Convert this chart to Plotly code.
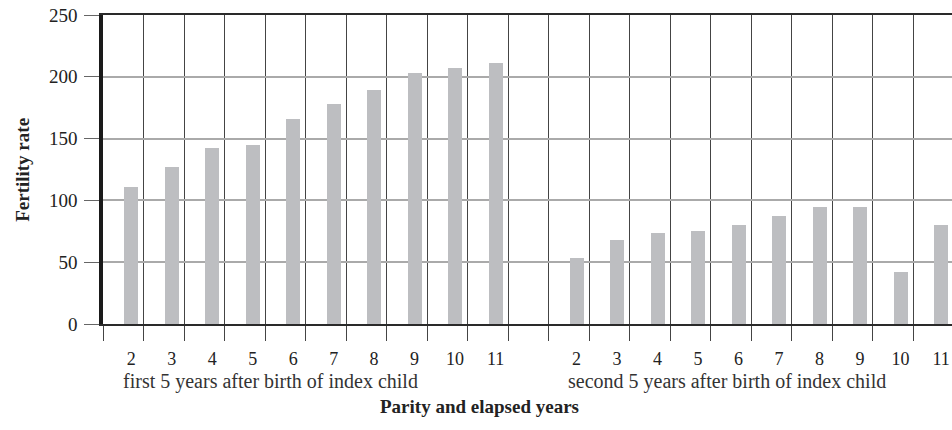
import plotly.graph_objects as go

# fertility rate by parity, two periods after birth of index child
parity = ["2", "3", "4", "5", "6", "7", "8", "9", "10", "11"]
first_5_years = [111, 127, 142, 145, 166, 178, 189, 203, 207, 211]
second_5_years = [53, 68, 74, 75, 80, 87, 95, 95, 42, 80]
group_labels = ["first 5 years after birth of index child",
                "second 5 years after birth of index child"]

SERIF = "Liberation Serif"
BAR_COLOR = "#bdbec1"

# positions: first group 0..9, empty slot, second group 11..20
x_first = list(range(len(parity)))
x_second = [len(parity) + 1 + i for i in range(len(parity))]

fig = go.Figure()
fig.add_trace(go.Bar(x=x_first + x_second, y=first_5_years + second_5_years,
                     width=0.345, marker=dict(color=BAR_COLOR, line=dict(width=0)),
                     showlegend=False, hoverinfo="y"))

fig.update_layout(
    width=952, height=430,
    margin=dict(l=103, r=0, t=15, b=106),
    plot_bgcolor="white", paper_bgcolor="white",
    font=dict(family=SERIF, color="#222"),
    xaxis=dict(
        range=[-0.695, 20.27],
        tickvals=x_first + x_second, ticktext=parity + parity,
        ticks="outside", ticklen=17, tickcolor="rgba(0,0,0,0)",
        tickfont=dict(size=18, family=SERIF, color="#222"),
        showgrid=False, zeroline=False,
        showline=True, mirror=True, linewidth=2, linecolor="#2a2a2a",
        minor=dict(tick0=0.31, dtick=1, ticks="outside", ticklen=15,
                   tickwidth=1.3, tickcolor="#444",
                   showgrid=True, gridcolor="#444", gridwidth=1.3),
        fixedrange=True,
    ),
    yaxis=dict(
        range=[0, 250], tickvals=[0, 50, 100, 150, 200, 250],
        ticks="outside", ticklen=15, tickwidth=1, tickcolor="#666",
        ticklabelstandoff=3,
        tickfont=dict(size=19, family=SERIF, color="#222"),
        showgrid=True, gridcolor="#aaaaaa", gridwidth=1.5,
        zeroline=False,
        showline=True, linewidth=3.5, linecolor="#1a1a1a",
        fixedrange=True,
    ),
    bargap=0,
)

fig.add_annotation(text="<b>Fertility rate</b>", textangle=-90,
                   xref="paper", yref="paper", x=-0.095, y=0.5,
                   xanchor="center", yanchor="middle", showarrow=False,
                   font=dict(size=19, family=SERIF, color="#222"))
fig.add_annotation(text="<b>Parity and elapsed years</b>",
                   xref="paper", yref="paper", x=0.444, y=-0.268,
                   xanchor="center", yanchor="middle", showarrow=False,
                   font=dict(size=19, family=SERIF, color="#222"))
for start, label in zip([x_first[0], x_second[0]], group_labels):
    fig.add_annotation(text=label, xref="x", yref="paper",
                       x=start - 0.25, y=-0.187,
                       xanchor="left", yanchor="middle", showarrow=False,
                       font=dict(size=20, family=SERIF, color="#333"))

fig.write_html("out.html", config={"displayModeBar": False},
               post_script="document.body.style.margin='0';"
                           "document.body.style.overflow='hidden';")
